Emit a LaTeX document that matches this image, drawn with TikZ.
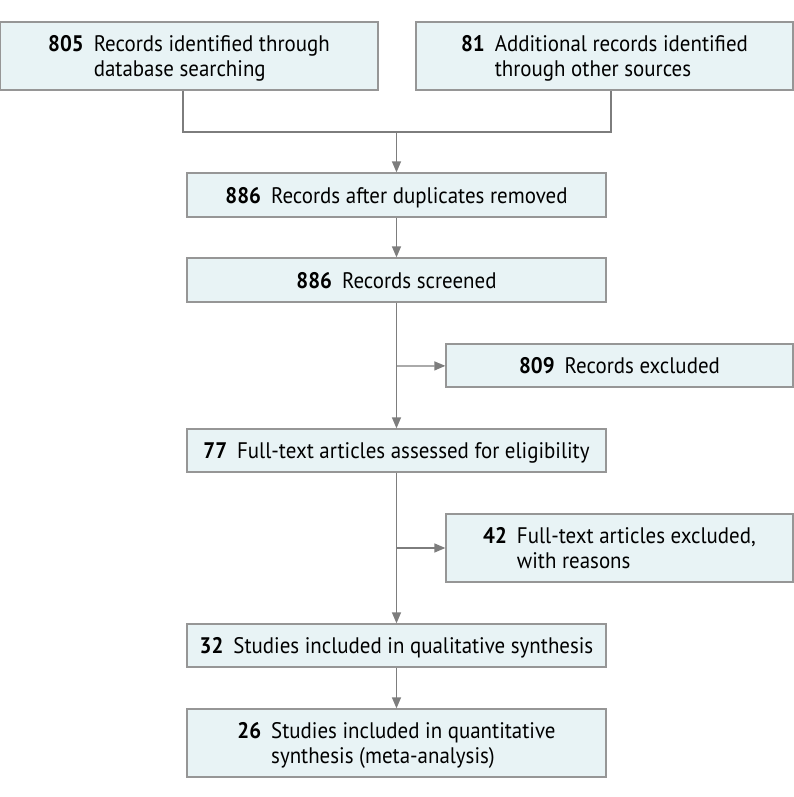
\documentclass[tikz,border=0pt]{standalone}
\usepackage{fontspec}
\setmainfont[FakeStretch=0.93]{PT Sans}
\usetikzlibrary{arrows.meta,calc}
\definecolor{boxfill}{RGB}{232,243,245}
\definecolor{boxdraw}{RGB}{150,150,150}
\definecolor{linecol}{RGB}{125,125,125}
\newsavebox{\entrybox}
\newcommand{\entry}[2]{\sbox{\entrybox}{\setlength{\tabcolsep}{0pt}\renewcommand{\arraystretch}{1}\begin{tabular}{@{}l@{\hspace{10pt}}l@{}}\textbf{#1} & #2\end{tabular}}\raisebox{-3pt}[\ht\entrybox][\dp\entrybox]{\usebox{\entrybox}}}
\begin{document}
\begin{tikzpicture}[x=1pt,y=-1pt,
  flowbox/.style={draw=boxdraw,fill=boxfill,line width=1.3pt,rectangle,inner sep=0pt,font=\fontsize{22.5}{25}\selectfont},
  conn/.style={draw=linecol,line width=1.3pt},
  arr/.style={conn,-{Triangle[length=11pt,width=9pt]}}]
\useasboundingbox (0,0) rectangle (794,797);
\node[flowbox,minimum width=378pt,minimum height=68pt] (b1) at (189,56) {\entry{805}{Records identified through\\ & database searching}};
\node[flowbox,minimum width=377pt,minimum height=68pt] (b2) at (604.5,56) {\entry{81}{Additional records identified\\ & through other sources}};
\node[flowbox,minimum width=419pt,minimum height=44pt] (b3) at (396.5,195) {\entry{886}{Records after duplicates removed}};
\node[flowbox,minimum width=419pt,minimum height=44pt] (b4) at (396.5,280) {\entry{886}{Records screened}};
\node[flowbox,minimum width=347pt,minimum height=43pt] (b5) at (619.5,365.5) {\entry{809}{Records excluded}};
\node[flowbox,minimum width=419pt,minimum height=43pt] (b6) at (396.5,450.5) {\entry{77}{Full-text articles assessed for eligibility}};
\node[flowbox,minimum width=347pt,minimum height=68pt] (b7) at (619.5,548) {\entry{42}{Full-text articles excluded,\\ & with reasons}};
\node[flowbox,minimum width=419pt,minimum height=43pt] (b8) at (396.5,645.5) {\entry{32}{Studies included in qualitative synthesis}};
\node[flowbox,minimum width=419pt,minimum height=68pt] (b9) at (396.5,743) {\entry{26}{Studies included in quantitative\\ & synthesis (meta-analysis)}};
\coordinate (jl) at (183,132);
\coordinate (jr) at (611,132);
\coordinate (jm) at (396.5,132);
\coordinate (s1) at (396.5,366);
\coordinate (s2) at (396.5,548);
\draw[conn] (b1.south -| jl) -- (jl) -- (jr) -- (b2.south -| jr);
\draw[arr] (jm) -- (b3);
\draw[arr] (b3) -- (b4);
\draw[arr] (b4) -- (b6);
\draw[arr] (s1) -- (b5);
\draw[arr] (b6) -- (b8);
\draw[arr] (s2) -- (b7);
\draw[arr] (b8) -- (b9);
\end{tikzpicture}
\end{document}
